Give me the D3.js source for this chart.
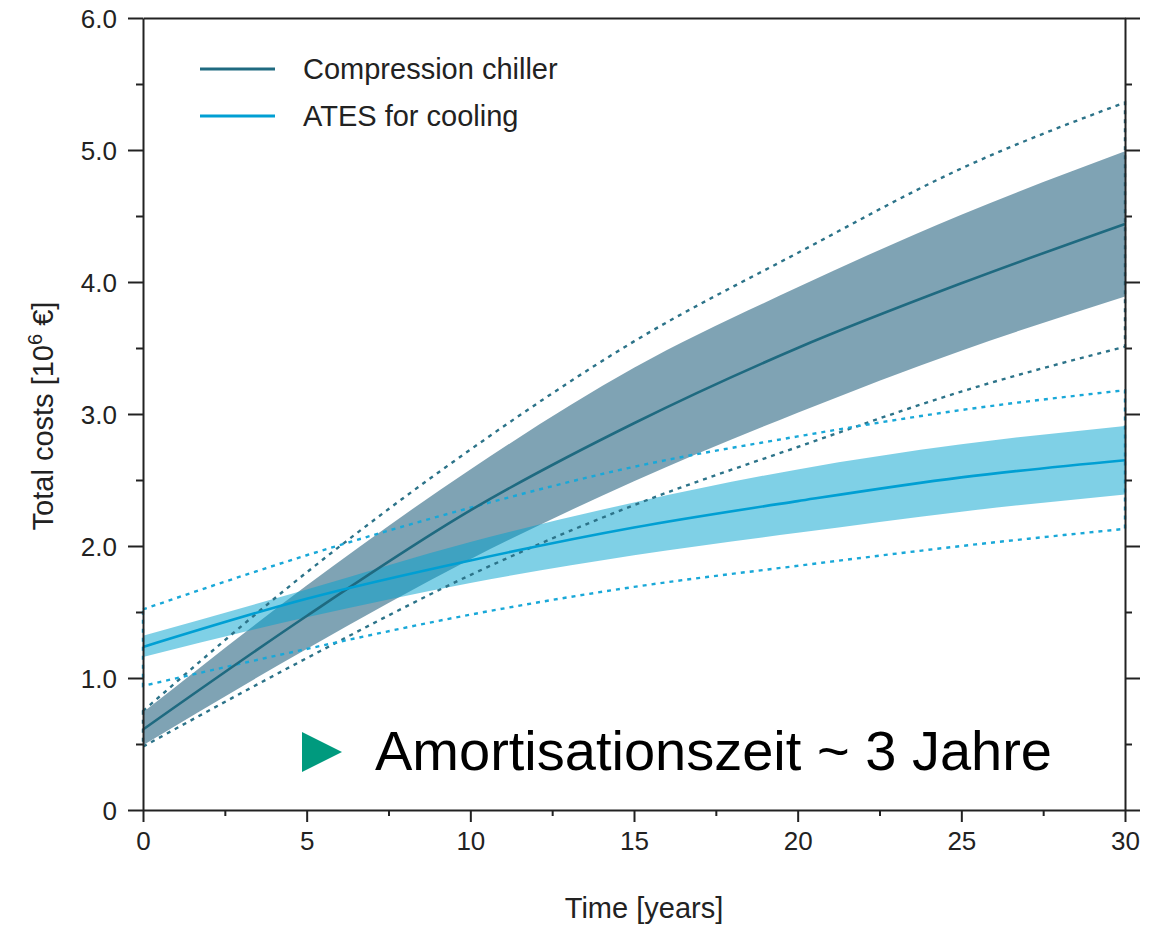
<!DOCTYPE html>
<html>
<head>
<meta charset="utf-8">
<script src="https://cdn.jsdelivr.net/npm/d3@7"></script>
<style>
  body { margin: 0; background: #fff; }
  svg text { font-family: "Liberation Sans", Arial, sans-serif; fill: #222; }
</style>
</head>
<body>
<div id="chart"></div>
<script>
// years on the x axis
const years = [0, 5, 10, 15, 20, 25, 30];

// compression chiller: mean, band, dotted envelope
const chillerMean  = [0.61, 1.47, 2.27, 2.93, 3.50, 3.99, 4.44];
const chillerHigh  = [0.74, 1.70, 2.58, 3.35, 3.96, 4.51, 4.99];
const chillerLow   = [0.49, 1.22, 1.90, 2.49, 3.01, 3.48, 3.89];
const chillerMax   = [0.75, 1.80, 2.73, 3.55, 4.22, 4.86, 5.36];
const chillerMin   = [0.48, 1.15, 1.78, 2.31, 2.75, 3.17, 3.51];

// ATES for cooling
const atesMean = [1.235, 1.60, 1.89, 2.14, 2.34, 2.52, 2.65];
const atesHigh = [1.32, 1.67, 2.03, 2.33, 2.58, 2.77, 2.91];
const atesLow  = [1.16, 1.46, 1.72, 1.93, 2.10, 2.26, 2.39];
const atesMax  = [1.52, 1.93, 2.29, 2.60, 2.83, 3.03, 3.18];
const atesMin  = [0.94, 1.22, 1.48, 1.69, 1.85, 2.00, 2.13];

const yTicks = [0, 1, 2, 3, 4, 5, 6];
const xTicks = [0, 5, 10, 15, 20, 25, 30];
const legendLabels = ['Compression chiller', 'ATES for cooling'];
const note = 'Amortisationszeit ~ 3 Jahre';

const W = 1166, H = 927;
const margin = { top: 18, right: 41, bottom: 117, left: 143 };
const width = W - margin.left - margin.right;
const height = H - margin.top - margin.bottom;

const svg = d3.select('#chart').append('svg')
    .attr('width', W)
    .attr('height', H);

const g = svg.append('g')
    .attr('transform', `translate(${margin.left},${margin.top})`);

const x = d3.scaleLinear().domain([0, 30]).range([0, width]);
const y = d3.scaleLinear().domain([0, 6]).range([height, 0]);

const series = [
    { mean: chillerMean, hi: chillerHigh, lo: chillerLow, max: chillerMax, min: chillerMin,
      line: '#1f6a80', band: 'rgba(0,71,105,0.5)', dot: '#2c7389' },
    { mean: atesMean, hi: atesHigh, lo: atesLow, max: atesMax, min: atesMin,
      line: '#009fd3', band: 'rgba(0,161,205,0.5)', dot: '#19a8d8' }
];

const area = d3.area()
    .x(d => x(d.t))
    .y0(d => y(d.lo))
    .y1(d => y(d.hi))
    .curve(d3.curveMonotoneX);

const line = d3.line()
    .x(d => x(d.t))
    .y(d => y(d.v))
    .curve(d3.curveMonotoneX);

// bands
series.forEach(s => {
    g.append('path')
        .datum(years.map((t, i) => ({ t, lo: s.lo[i], hi: s.hi[i] })))
        .attr('d', area)
        .attr('fill', s.band);
});

// dotted envelopes (closed outline)
series.forEach(s => {
    const top = line(years.map((t, i) => ({ t, v: s.max[i] })));
    const bot = line(years.map((t, i) => ({ t, v: s.min[i] })).reverse());
    g.append('path')
        .attr('d', top + 'L' + bot.slice(1) + 'Z')
        .attr('fill', 'none')
        .attr('stroke', s.dot)
        .attr('stroke-width', 2.4)
        .attr('stroke-dasharray', '4,5');
});

// mean lines
series.forEach(s => {
    g.append('path')
        .datum(years.map((t, i) => ({ t, v: s.mean[i] })))
        .attr('d', line)
        .attr('fill', 'none')
        .attr('stroke', s.line)
        .attr('stroke-width', 2.6);
});

// axes
const yMinor = d3.range(0.5, 6, 1);
const xMinor = d3.range(2.5, 30, 5);
const fmt = d => d === 0 ? '0' : d3.format('.1f')(d);

function styleAxis(sel) {
    sel.selectAll('path, line').attr('stroke', '#222').attr('stroke-width', 2);
    sel.selectAll('text').attr('fill', '#222').style('font-size', '26px');
}

g.append('g')
    .call(d3.axisLeft(y).tickValues(yTicks).tickSize(15).tickSizeOuter(0).tickPadding(11).tickFormat(fmt))
    .call(styleAxis)
    .selectAll('text').attr('dy', '0.36em');
g.append('g')
    .call(d3.axisLeft(y).tickValues(yMinor).tickSize(7).tickFormat(''))
    .call(styleAxis).select('.domain').remove();

g.append('g')
    .attr('transform', `translate(${width},0)`)
    .call(d3.axisRight(y).tickValues(yTicks).tickSize(15).tickSizeOuter(0).tickFormat(''))
    .call(styleAxis);
g.append('g')
    .attr('transform', `translate(${width},0)`)
    .call(d3.axisRight(y).tickValues(yMinor).tickSize(7).tickFormat(''))
    .call(styleAxis).select('.domain').remove();

g.append('g')
    .attr('transform', `translate(0,${height})`)
    .call(d3.axisBottom(x).tickValues(xTicks).tickSize(12).tickSizeOuter(0).tickPadding(10))
    .call(styleAxis)
    .selectAll('text').attr('dy', '0.71em');
g.append('g')
    .attr('transform', `translate(0,${height})`)
    .call(d3.axisBottom(x).tickValues(xMinor).tickSize(6).tickFormat(''))
    .call(styleAxis).select('.domain').remove();

g.append('g')
    .call(d3.axisTop(x).tickValues([]).tickSizeOuter(0))
    .call(styleAxis);

// axis titles
svg.append('text')
    .attr('x', 644)
    .attr('y', 918)
    .attr('text-anchor', 'middle')
    .style('font-size', '29px')
    .text('Time [years]');

const yTitle = svg.append('text')
    .attr('transform', 'translate(53,416) rotate(-90)')
    .attr('text-anchor', 'middle')
    .style('font-size', '29px');
yTitle.append('tspan').text('Total costs [10');
yTitle.append('tspan').attr('dy', -11).style('font-size', '20px').text('6');
yTitle.append('tspan').attr('dy', 11).text(' €]');

// legend
const legend = g.append('g').attr('transform', 'translate(57,51)');
legendLabels.forEach((lab, i) => {
    const row = legend.append('g').attr('transform', `translate(0,${i * 47})`);
    row.append('line')
        .attr('x1', 0).attr('x2', 75)
        .attr('stroke', series[i].line)
        .attr('stroke-width', 3);
    row.append('text')
        .attr('x', 103)
        .attr('y', 10)
        .style('font-size', '29px')
        .text(lab);
});

// annotation
svg.append('path')
    .attr('d', d3.line()([[302, 732], [342, 752], [302, 772]]) + 'Z')
    .attr('fill', '#009a7e');
svg.append('text')
    .attr('x', 375)
    .attr('y', 770)
    .style('font-size', '56px')
    .style('fill', '#000')
    .text(note);
</script>
</body>
</html>
